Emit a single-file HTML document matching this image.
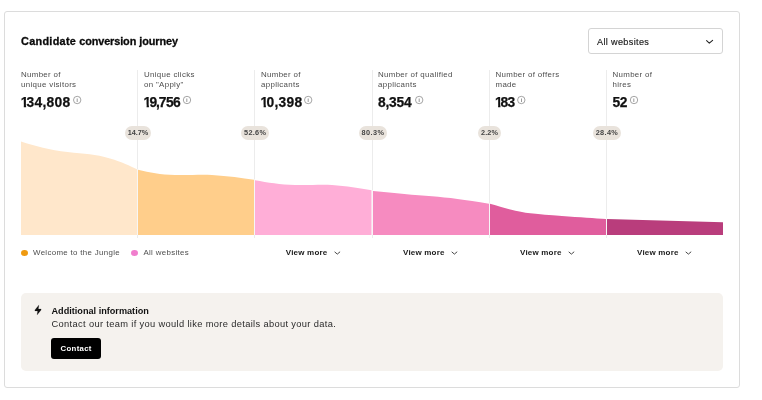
<!DOCTYPE html>
<html lang="en">
<head>
<meta charset="utf-8">
<title>Candidate conversion journey</title>
<style>
*{box-sizing:border-box;margin:0;padding:0}
html,body{width:762px;height:400px;background:#fff;overflow:hidden}
body{font-family:"Liberation Sans",sans-serif;color:#111;position:relative}
.abs{position:absolute;white-space:nowrap}
.card{position:absolute;left:4px;top:11px;width:736px;height:377px;border:1px solid #dcdcdc;border-radius:3px;background:#fff}
.title{left:21px;top:34px;font-size:10.87px;font-weight:bold;line-height:14px;color:#0a0a0a;-webkit-text-stroke:0.3px #0a0a0a}
.select{position:absolute;left:588px;top:28px;width:135px;height:26px;border:1px solid #d4d4d4;border-radius:3px;background:#fff}
.select span{position:absolute;left:8px;top:7px;font-size:9.1px;letter-spacing:0.35px;line-height:13px;color:#1a1a1a;-webkit-text-stroke:0.15px #1a1a1a;white-space:nowrap}
.vline{position:absolute;top:70px;width:1px;height:168px;background:#ececec}
.lab{font-size:7.9px;letter-spacing:0.33px;line-height:9.7px;color:#4d4d4d;top:70.2px;white-space:pre}
.num{font-size:13.8px;font-weight:bold;line-height:16px;top:95.4px;color:#111;-webkit-text-stroke:0.25px #111}
.num i{font-style:normal;display:inline-block;letter-spacing:0;margin:0 -1.9px 0 -0.4px;clip-path:polygon(0 0,5.3px 0,5.3px 100%,3.0px 100%,3.0px 9.4px,0 9.4px)}
.num b{margin:0 -0.5px}
.pill{position:absolute;top:126px;height:14px;border-radius:7px;background:#e9e3dc;font-size:7.3px;font-weight:bold;color:#444;text-align:center;line-height:14px;white-space:nowrap}
.leg{font-size:7.9px;letter-spacing:0.33px;line-height:10px;color:#4d4d4d;top:247.5px}
.dot{position:absolute;width:7px;height:6.4px;border-radius:50%;top:249.7px}
.vm{font-size:8px;letter-spacing:0.2px;font-weight:bold;line-height:10px;color:#1a1a1a;top:247.8px}
.box{position:absolute;left:21px;top:293px;width:702px;height:78px;border-radius:5px;background:#f5f2ee}
.bt{left:51.5px;top:304.5px;font-size:9.15px;font-weight:bold;line-height:12px;color:#111}
.bd{left:51.5px;top:317.5px;font-size:9.3px;letter-spacing:0.345px;line-height:12px;color:#2a2a2a}
.btn{position:absolute;left:51px;top:338px;width:50px;height:21px;border-radius:3px;background:#000;color:#fff;font-size:7.8px;letter-spacing:.3px;text-indent:.3px;font-weight:bold;line-height:21px;text-align:center}
svg{position:absolute;overflow:visible}
</style>
</head>
<body>
<div class="card"></div>
<div class="box"></div>
<div class="abs title"><span style="letter-spacing:0.3px">Candidate</span> <span style="letter-spacing:-0.1px">conversion</span> <span style="letter-spacing:-0.08px">journey</span></div>
<div class="select"><span>All websites</span>
<svg style="left:116.6px;top:10.9px" width="8" height="5" viewBox="0 0 8 5"><path d="M0.6 0.7 L3.3 3.2 L6.6 0.4" fill="none" stroke="#222" stroke-width="1.1" stroke-linecap="round" stroke-linejoin="round"/></svg>
</div>

<div class="vline" style="left:137px"></div>
<div class="vline" style="left:254px"></div>
<div class="vline" style="left:372px"></div>
<div class="vline" style="left:489px"></div>
<div class="vline" style="left:606px"></div>

<div class="abs lab" style="left:21px">Number of
unique visitors</div>
<div class="abs lab" style="left:144px">Unique clicks
on "Apply"</div>
<div class="abs lab" style="left:261px">Number of
applicants</div>
<div class="abs lab" style="left:378px">Number of qualified
applicants</div>
<div class="abs lab" style="left:495.5px">Number of offers
made</div>
<div class="abs lab" style="left:612.5px">Number of
hires</div>

<div class="abs num" id="n1" style="left:21.2px;letter-spacing:0.27px"><i>1</i>34,808</div>
<div class="abs num" id="n2" style="left:144px;letter-spacing:-0.55px"><i>1</i>9<b>,</b>756</div>
<div class="abs num" id="n3" style="left:261px;letter-spacing:0.3px"><i>1</i>0,398</div>
<div class="abs num" id="n4" style="left:378px;letter-spacing:-0.23px">8,354</div>
<div class="abs num" id="n5" style="left:495.5px;letter-spacing:-0.6px"><i style="margin-right:-2.4px">1</i>83</div>
<div class="abs num" id="n6" style="left:612.5px;letter-spacing:-0.5px">52</div>

<svg width="762" height="400" style="left:0;top:0" viewBox="0 0 762 400">
<g fill="none" stroke="#6a6a6a" stroke-width="0.6">
<circle cx="77.2" cy="100" r="3.7"/><circle cx="187" cy="100" r="3.7"/><circle cx="308.2" cy="100" r="3.7"/><circle cx="419.2" cy="100" r="3.7"/><circle cx="521.3" cy="100" r="3.7"/><circle cx="634" cy="100" r="3.7"/>
</g>
<g fill="#666" font-family="Liberation Sans, sans-serif" font-size="4.5" font-weight="bold" text-anchor="middle">
<text x="77.2" y="101.7">i</text><text x="187" y="101.7">i</text><text x="308.2" y="101.7">i</text><text x="419.2" y="101.7">i</text><text x="521.3" y="101.7">i</text><text x="634" y="101.7">i</text>
</g>
<!-- chart -->
<path fill="#ffe7cb" d="M21 141.5 C35 146,50 150,67.5 152 C85 154,95 154,110 158.5 C122 162,130 166,137 169.3 L137 235 L21 235 Z"/>
<path fill="#ffce8b" d="M138 169.7 C150 172.5,160 174.5,175 175 C190 175.5,200 174,212 175 C228 176,242 178,254 179.8 L254 235 L138 235 Z"/>
<path fill="#ffaed7" d="M255 180.2 C268 182.5,280 184.6,295 185 C310 185.4,320 184.2,332 185 C346 186,360 188.4,371.5 190.2 L371.5 235 L255 235 Z"/>
<path fill="#f68bc0" d="M373 190.9 C395 193,415 195,432 196.2 C448 197.5,465 199.5,489 203.8 L489 235 L373 235 Z"/>
<path fill="#e05d9d" d="M490 203.8 C498 206,503 207.7,509.3 209.3 C518 211.5,524 212.6,530.3 213.3 C545 215,555 215.4,561.8 215.9 C580 217.2,595 218.2,606 219 L606 235 L490 235 Z"/>
<path fill="#b93d7c" d="M607 219 L723 222.2 L723 235 L607 235 Z"/>
<rect x="137" y="169" width="1" height="66" fill="#fff" fill-opacity="0.55"/><rect x="254" y="179" width="1" height="56" fill="#fff" fill-opacity="0.55"/><rect x="372" y="190" width="1" height="45" fill="#fff" fill-opacity="0.55"/><rect x="489" y="203" width="1" height="32" fill="#fff" fill-opacity="0.55"/><rect x="606" y="218" width="1" height="17" fill="#fff" fill-opacity="0.55"/>
<!-- bolt -->
<polygon fill="#111" stroke="#111" stroke-width="0.15" stroke-linejoin="round" points="38.9,304.9 34.9,309.9 34.9,311 37.6,311 37.1,314.9 41.1,310 41.1,308.9 38.4,308.9"/>
<!-- view more chevrons -->
<g fill="none" stroke="#333" stroke-width="0.9" stroke-linecap="round" stroke-linejoin="round">
<path d="M334.9 252.1 L337.3 254.1 L339.8 252"/>
<path d="M452.0 252.1 L454.4 254.1 L456.9 252"/>
<path d="M569.0 252.1 L571.4 254.1 L573.9 252"/>
<path d="M686.0 252.1 L688.4 254.1 L690.9 252"/>
</g>
</svg>

<div class="pill" style="left:125px;width:26px">14.7%</div>
<div class="pill" style="left:241px;width:28px;letter-spacing:.3px;text-indent:.3px">52.6%</div>
<div class="pill" style="left:359px;width:27.5px;letter-spacing:.4px;text-indent:.4px">80.3%</div>
<div class="pill" style="left:478px;width:23px;letter-spacing:.15px;text-indent:.15px">2.2%</div>
<div class="pill" style="left:593px;width:27.5px;letter-spacing:.35px;text-indent:.35px">28.4%</div>

<div class="dot" style="left:21px;background:#ef9a10"></div>
<div class="abs leg" style="left:33px">Welcome to the Jungle</div>
<div class="dot" style="left:131px;background:#f07ecd"></div>
<div class="abs leg" style="left:143.4px">All websites</div>

<div class="abs vm" style="left:285.8px">View more</div>
<div class="abs vm" style="left:403px">View more</div>
<div class="abs vm" style="left:520px">View more</div>
<div class="abs vm" style="left:637px">View more</div>

<div class="abs bt">Additional information</div>
<div class="abs bd">Contact our team if you would like more details about your data.</div>
<div class="btn">Contact</div>
</body>
</html>
